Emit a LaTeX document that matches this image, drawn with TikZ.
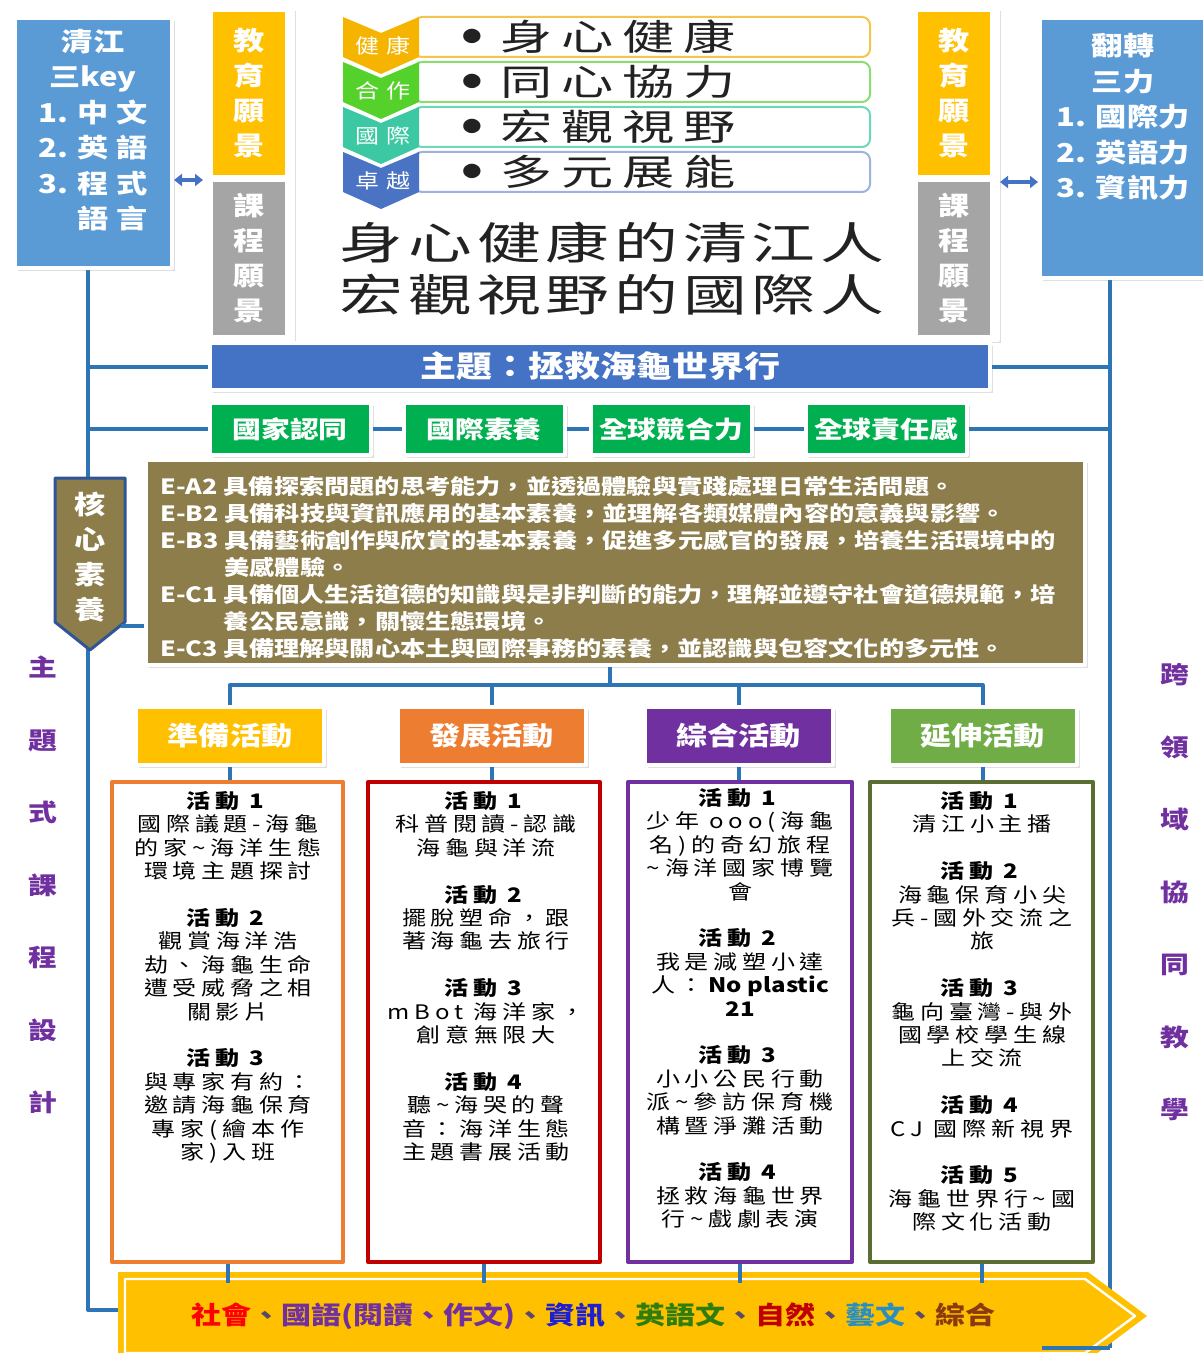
\documentclass[tikz,border=0pt]{standalone}
\usepackage{fontspec}
\setmainfont{Noto Sans CJK TC}[FakeStretch=1.2]
\newfontfamily\widecjk{Noto Sans CJK TC}[FakeStretch=1.45]
\usetikzlibrary{positioning,shadows,arrows.meta}
\newcommand\sz[2]{\fontsize{#1}{#2}\selectfont}
\newcommand\spread[1]{\addfontfeature{LetterSpace=#1}}
\definecolor{keyblue}{HTML}{5B9BD5}
\definecolor{themeblue}{HTML}{4472C4}
\definecolor{linkblue}{HTML}{2E75B6}
\definecolor{goldbar}{HTML}{FFC000}
\definecolor{graybar}{HTML}{A5A5A5}
\definecolor{olivebox}{HTML}{8C7D4B}
\definecolor{coreedge}{HTML}{2F5597}
\definecolor{greenbox}{HTML}{00B050}
\definecolor{orangebox}{HTML}{ED7D31}
\definecolor{purplebox}{HTML}{7030A0}
\definecolor{leafbox}{HTML}{70AD47}
\definecolor{redline}{HTML}{C00000}
\definecolor{mossline}{HTML}{5A6E34}
\definecolor{chevgold}{HTML}{F5B400}
\definecolor{chevgreen}{HTML}{55D12B}
\definecolor{chevteal}{HTML}{3CC8A2}
\definecolor{chevblue}{HTML}{4A73C4}
\definecolor{rimgold}{HTML}{F3C44E}
\definecolor{rimgreen}{HTML}{8BDD72}
\definecolor{rimteal}{HTML}{6ED6BC}
\definecolor{rimblue}{HTML}{9DB2DE}
\definecolor{inkgray}{HTML}{222222}
\definecolor{subjred}{HTML}{FF0000}
\definecolor{subjblue}{HTML}{1F1FD0}
\definecolor{subjgreen}{HTML}{2E7D0E}
\definecolor{subjteal}{HTML}{2A8FBF}
\definecolor{subjbrown}{HTML}{8B3A10}
\definecolor{subjsep}{HTML}{5A4A6A}

\begin{document}
\begin{tikzpicture}[x=0.5pt, y=-0.5pt, line join=round,
		panel/.style={draw=white, line width=2pt, inner sep=0pt, drop shadow={opacity=0.25, shadow xshift=1.5pt, shadow yshift=-1.5pt}},
		link/.style={draw=linkblue, line width=2pt},
		bar/.style={inner sep=0pt, minimum width=36pt, text=white, align=center, font=\bfseries\sz{13pt}{17.5pt}},
		keytext/.style={text=white, align=center, inner sep=0pt, font=\bfseries\sz{13pt}{17.75pt}},
		hdr/.style={panel, minimum width=94pt, minimum height=29pt, text=white, font=\bfseries\sz{13pt}{15pt}},
		act/.style={draw=#1, line width=2pt, fill=white, inner sep=0pt, minimum height=240pt},
		acttext/.style={align=center, inner sep=0pt, anchor=north, font=\sz{10pt}{11.7pt}\spread{24}},
		goal/.style={panel, fill=greenbox, minimum width=80.5pt, minimum height=26pt, text=white, font=\bfseries\sz{12pt}{14pt}},
		side/.style={text=purplebox, align=center, inner sep=0pt, font=\bfseries\sz{12pt}{36.25pt}}
	]
	\useasboundingbox (0,0) rectangle (1203,1353);
	\clip (0,0) rectangle (1203,1353);
	\path
	(88,268)coordinate (lt)
	(88,1310)coordinate (lb)
	(122,1310)coordinate (le)
	(1110,278)coordinate (rt)
	(1110,1348)coordinate (rb)
	(1042,1348)coordinate (re)
	(610,685)coordinate (hub)
	(0,1283)coordinate (arrowtop)
	(121,626)coordinate (corejoin)
	;
	\draw[link] (lt)--(lb)--(le);
	\draw[link] (rt)--(rb);
	
	\node[panel, fill=keyblue, minimum width=78.5pt, minimum height=125pt] (keyL) at (93.5,143) {};
	\node[keytext] (keyLtxt) at (93,130) {清江\\三key\\1. 中 文\\2. 英 語\\3. 程 式\\\phantom{3. }語 言};
	\node[panel, fill=keyblue, minimum width=85pt, minimum height=130pt] (keyR) at (1125,148) {};
	\node[keytext] (keyRtxt) at (1123,117) {翻轉\\三力\\1. 國際力\\2. 英語力\\3. 資訊力};
	
	\node[panel, fill=white, minimum width=44pt, minimum height=166pt] (panL) at (249,174) {};
	\node[panel, fill=white, minimum width=44pt, minimum height=166pt] (panR) at (954,174) {};
	\node[bar, fill=goldbar, minimum height=81.5pt] (eduL) at (249,93.5) {教\\育\\願\\景};
	\node[bar, fill=graybar, minimum height=76.5pt] (curL) at (249,258.5) {課\\程\\願\\景};
	\node[bar, fill=goldbar, minimum height=81.5pt] (eduR) at (954,93.5) {教\\育\\願\\景};
	\node[bar, fill=graybar, minimum height=76.5pt] (curR) at (954,258.5) {課\\程\\願\\景};
	\draw[themeblue, line width=2.2pt, {Triangle[width=6pt,length=4pt]}-{Triangle[width=6pt,length=4pt]}]
	(keyL.east |- 0,180)--(panL.west |- 0,180);
	\draw[themeblue, line width=2.2pt, {Triangle[width=6pt,length=4pt]}-{Triangle[width=6pt,length=4pt]}]
	(panR.east |- 0,182)--(keyR.west |- 0,182);
	
	\foreach \i/\col/\rim/\tag/\word in {0/chevgold/rimgold/健康/身心健康, 1/chevgreen/rimgreen/合作/同心協力, 2/chevteal/rimteal/國際/宏觀視野, 3/chevblue/rimblue/卓越/多元展能}{
		\pgfmathsetmacro\rowy{17+45*\i}
		\draw[\rim, line width=1pt, fill=white, rounded corners=4pt] (414,\rowy) rectangle (870,\rowy+40);
		\fill[\col] (343,\rowy)--(381,\rowy+16)--(419,\rowy)--(419,\rowy+40)--(381,\rowy+57)--(343,\rowy+40)--cycle;
		\node[text=white, inner sep=0pt, font=\sz{10pt}{12pt}\spread{35}] (tag\i) at (383,\rowy+29) {\tag};
		\node[text=inkgray, inner sep=0pt, font=\sz{8pt}{10pt}] (dot\i) at (472,\rowy+19) {●};
		\node[anchor=west, text=inkgray, inner sep=0pt, font=\widecjk\sz{18pt}{20pt}\spread{25}] (word\i) at (500,\rowy+20) {\word};
	}
	\node[text=inkgray, inner sep=0pt, font=\widecjk\sz{22pt}{26pt}\spread{11}] (motto1) at (612,243) {身心健康的清江人};
	\node[text=inkgray, inner sep=0pt, font=\widecjk\sz{22pt}{26pt}\spread{11}] (motto2) at (612,295) {宏觀視野的國際人};
	
	\node[panel, fill=themeblue, minimum width=390pt, minimum height=23.5pt, text=white, font=\bfseries\sz{15pt}{17pt}] (theme) at (600,366.5) {主題：拯救海龜世界行};
	\draw[link] (theme.west -| lt)--(theme.west) (theme.east)--(theme.east -| rt);
	
	\foreach \n/\cx/\t in {A/290/國家認同, B/484/國際素養, C/671/全球競合力, D/886/全球責任感}
	\node[goal] (goal\n) at (\cx,429) {\t};
	\draw[link] (goalA.west -| lt)--(goalA.west) (goalA.east)--(goalB.west) (goalB.east)--(goalC.west)
	(goalC.east)--(goalD.west) (goalD.east)--(goalD.east -| rt);
	
	\draw[draw=coreedge, line width=1.5pt, fill=olivebox] (55,478)--(125,478)--(125,622)--(90,650)--(55,622)--cycle;
	\node[text=white, align=center, inner sep=0pt, font=\bfseries\sz{13pt}{17.5pt}] (core) at (90,557) {核\\心\\素\\養};
	\node[panel, fill=olivebox, minimum width=469.5pt, minimum height=102.5pt] (comp) at (615.5,562.5) {};
	\draw[link] (corejoin)--(corejoin -| comp.west);
	\node[anchor=north west, align=left, text=white, inner sep=0pt, font=\bfseries\sz{10.5pt}{13.5pt}] (comptxt) at (160,476) {%
		E-A2 具備探索問題的思考能力，並透過體驗與實踐處理日常生活問題。\\
		E-B2 具備科技與資訊應用的基本素養，並理解各類媒體內容的意義與影響。\\
		E-B3 具備藝術創作與欣賞的基本素養，促進多元感官的發展，培養生活環境中的\\
		\phantom{E-B3 }美感體驗。\\
		E-C1 具備個人生活道德的知識與是非判斷的能力，理解並遵守社會道德規範，培\\
		\phantom{E-C1 }養公民意識，關懷生態環境。\\
		E-C3 具備理解與關心本土與國際事務的素養，並認識與包容文化的多元性。};
	
	\foreach \n/\cx/\col/\t in {A/230/goldbar/準備活動, B/491.5/orangebox/發展活動, C/738.5/purplebox/綜合活動, D/982.5/leafbox/延伸活動}
	\node[hdr, fill=\col] (hdr\n) at (\cx,736) {\t};
	\draw[link] (comp.south -| hub)--(hub);
	\draw[link] (hdrA.north) |- (hub) -| (hdrD.north);
	\draw[link] (hdrB.north)--(hdrB.north |- hub) (hdrC.north)--(hdrC.north |- hub);
	
	\foreach \n/\cx/\w/\col in {A/227.5/115.5/orangebox, B/484/116/redline, C/740/112/purplebox, D/981.5/111.5/mossline}
	\node[act=\col, minimum width=\w pt] (act\n) at (\cx,1022) {};
	\foreach \n in {A,B,C,D}
	\draw[link] (hdr\n.south)--(hdr\n.south |- act\n.north);
	
	\node[acttext] (actAtxt) at (228,791) {\textbf{活動 1}\\國際議題-海龜\\的家\textasciitilde 海洋生態\\環境主題探討\\[11.7pt]
		\textbf{活動 2}\\觀賞海洋浩\\劫、海龜生命\\遭受威脅之相\\關影片\\[11.7pt]
		\textbf{活動 3}\\與專家有約：\\邀請海龜保育\\專家(繪本作\\家)入班};
	\node[acttext] (actBtxt) at (486,791) {\textbf{活動 1}\\科普閱讀-認識\\海龜與洋流\\[11.7pt]
		\textbf{活動 2}\\擺脫塑命，跟\\著海龜去旅行\\[11.7pt]
		\textbf{活動 3}\\mBot 海洋家，\\創意無限大\\[11.7pt]
		\textbf{活動 4}\\聽\textasciitilde 海哭的聲\\音：海洋生態\\主題書展活動};
	\node[acttext] (actCtxt) at (740,788) {\textbf{活動 1}\\少年 ooo(海龜\\名)的奇幻旅程\\\textasciitilde 海洋國家博覽\\會\\[11.7pt]
		\textbf{活動 2}\\我是減塑小達\\人：{\spread{0}\textbf{No plastic}}\\{\spread{0}\textbf{21}}\\[11.7pt]
		\textbf{活動 3}\\小小公民行動\\派\textasciitilde 參訪保育機\\構暨淨灘活動\\[11.7pt]
		\textbf{活動 4}\\拯救海龜世界\\行\textasciitilde 戲劇表演};
	\node[acttext] (actDtxt) at (982,791) {\textbf{活動 1}\\清江小主播\\[11.7pt]
		\textbf{活動 2}\\海龜保育小尖\\兵-國外交流之\\旅\\[11.7pt]
		\textbf{活動 3}\\龜向臺灣-與外\\國學校學生線\\上交流\\[11.7pt]
		\textbf{活動 4}\\CJ 國際新視界\\[11.7pt]
		\textbf{活動 5}\\海龜世界行\textasciitilde 國\\際文化活動};
	
	\fill[goldbar] (118,1272)--(1088,1272)--(1147,1316)--(1088,1360)--(118,1360)--cycle;
	\draw[white, line width=1.2pt] (125,1279)--(1085,1279)--(1135,1316)--(1085,1353)--(125,1353)--cycle;
	\node[inner sep=0pt, font=\bfseries\sz{12.5pt}{14pt}] (subj) at (593,1316) {%
		{\color{subjred}社會}{\color{subjsep}、}{\color{purplebox}國語(閱讀、作文)}{\color{subjsep}、}%
		{\color{subjblue}資訊}{\color{subjsep}、}{\color{subjgreen}英語文}{\color{subjsep}、}%
		{\color{redline}自然}{\color{subjsep}、}{\color{subjteal}藝文}{\color{subjsep}、}{\color{subjbrown}綜合}};
	\foreach \n in {A,B,C,D}
	\draw[link] (act\n.south)--(act\n.south |- arrowtop);
	\draw[link] (rb)--(re);
	
	\node[side] (sideL) at (43,885) {主\\題\\式\\課\\程\\設\\計};
	\node[side] (sideR) at (1175,892) {跨\\領\\域\\協\\同\\教\\學};
\end{tikzpicture}
\end{document}
